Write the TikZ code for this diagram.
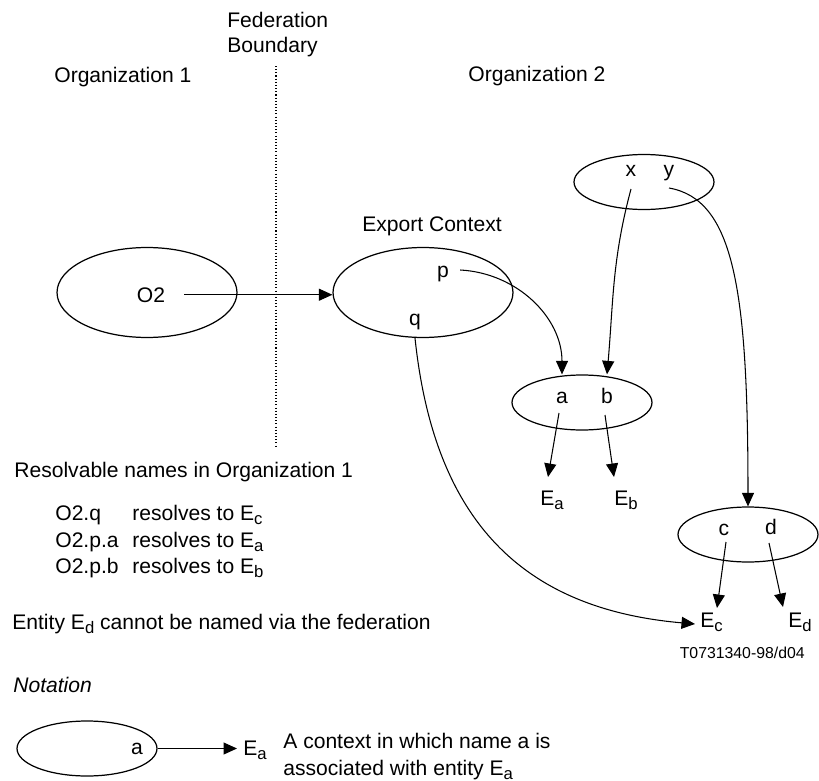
\documentclass[tikz,border=0pt]{standalone}
\usepackage{fontspec}
\setmainfont{Liberation Sans}
\usetikzlibrary{arrows.meta,shapes.geometric}
\newcommand{\entity}[1]{E\raisebox{-2.8pt}{\fontsize{9.5}{10}\selectfont#1}}

\tikzset{
  ctx/.style={draw, ellipse, line width=0.7pt, inner sep=0pt},
  bigctx/.style={ctx, minimum width=3.6cm, minimum height=1.8cm},
  smallctx/.style={ctx, minimum width=2.8cm, minimum height=1.1cm},
  lbl/.style={inner sep=0pt, anchor=base},
  ent/.style={inner sep=0pt, anchor=base west},
  txt/.style={inner sep=0pt, anchor=base west},
  link/.style={line width=0.6pt, -{Triangle[length=0.27cm, width=0.24cm]}},
}

\begin{document}
\begin{tikzpicture}[x=0.02cm, y=-0.02cm, font=\fontsize{12}{14.4}\selectfont]
			\useasboundingbox (0,0) rectangle (819,781);
			
			%%%%% headings %%%%%
			\node[txt] (fed1) at (227,27.5) {Federation};
			\node[txt] (fed2) at (227,52) {Boundary};
			\node[txt] (org1) at (54,82) {Organization 1};
			\node[txt] (org2) at (468,81) {Organization 2};
			\node[lbl] (exptitle) at (432,231) {Export Context};
			
			\draw[line width=0.6pt, dash pattern=on 0.6pt off 1.2pt] (276,66) -- (276,447);
			
			%%%%% contexts %%%%%
			\node[bigctx] (o2ctx) at (147,292.5) {};
			\node[bigctx] (expctx) at (423,292.5) {};
			\node[smallctx] (xyctx) at (644,182) {};
			\node[smallctx] (abctx) at (582,402.5) {};
			\node[smallctx] (cdctx) at (748,534.5) {};
			
			\node[lbl] (o2) at (151,302) {O2};
			\node[lbl] (p) at (443,277) {p};
			\node[lbl] (q) at (415,325) {q};
			\node[lbl] (nx) at (631,176) {x};
			\node[lbl] (ny) at (669,176) {y};
			\node[lbl] (a) at (562,403) {a};
			\node[lbl] (b) at (607,403) {b};
			\node[lbl] (c) at (724,535) {c};
			\node[lbl] (d) at (771,534) {d};
			
			\node[ent] (Ea) at (540,505) {\entity{a}};
			\node[ent] (Eb) at (614,505) {\entity{b}};
			\node[ent] (Ec) at (700,627) {\entity{c}};
			\node[ent] (Ed) at (788,627) {\entity{d}};
			
			%%%%% bindings %%%%%
			\draw[link] ([shift={(19,0)}]o2.east) -- (expctx.west |- o2.east);
			\draw[link] ([shift={(11,-7)}]p.base east) to[out=-3,in=90] (abctx.north -| a);
			\draw[link] ([shift={(0,13)}]nx.base) to[out=-105,in=85] (abctx.north -| b);
			\draw[link] ([shift={(0,12)}]ny.base) to[out=-10,in=90,out distance=1.32cm,in distance=4.34cm] (cdctx.north);
			\draw[link] ([shift={(0,13)}]q.base) to[out=-84,in=175,out distance=3.64cm,in distance=3.5cm] ([shift={(-5,-3)}]Ec.base west);
			
			\draw[link] ([shift={(-3,10)}]a.base) -- ([shift={(8,-28)}]Ea.base west);
			\draw[link] ([shift={(-2,12)}]b.base) -- ([shift={(0,-28)}]Eb.base west);
			\draw[link] ([shift={(2,7)}]c.base) -- ([shift={(17,-19)}]Ec.base west);
			\draw[link] ([shift={(-2,9)}]d.base) -- ([shift={(-5,-20)}]Ed.base west);
			
			%%%%% resolvable names %%%%%
			\node[txt] (res) at (14,477) {Resolvable names in Organization 1};
			\node[txt] (r1) at (55,520) {O2.q};
			\node[txt] (s1) at (132,520) {resolves to \entity{c}};
			\node[txt] (r2) at (55,547) {O2.p.a};
			\node[txt] (s2) at (132,547) {resolves to \entity{a}};
			\node[txt] (r3) at (55,573) {O2.p.b};
			\node[txt] (s3) at (132,573) {resolves to \entity{b}};
			\node[txt] (entd) at (12,629) {Entity \entity{d} cannot be named via the federation};
			
			\node[anchor=base east, inner sep=0pt, font=\fontsize{9}{11}\selectfont] (fig) at (805,658) {T0731340-98/d04};
			
			%%%%% notation %%%%%
			\node[txt] (notation) at (13,692) {\itshape Notation};
			\node[smallctx] (notectx) at (87,748.5) {};
			\node[lbl] (na) at (137,754) {a};
			\node[ent] (nEa) at (243,755) {\entity{a}};
			\draw[link, shorten >=0.12cm] (notectx.east) -- (notectx.east -| nEa.west);
			\node[txt] (note1) at (283,748) {A context in which name a is};
			\node[txt] (note2) at (283,775) {associated with entity \entity{a}};
			
\end{tikzpicture}
\end{document}
